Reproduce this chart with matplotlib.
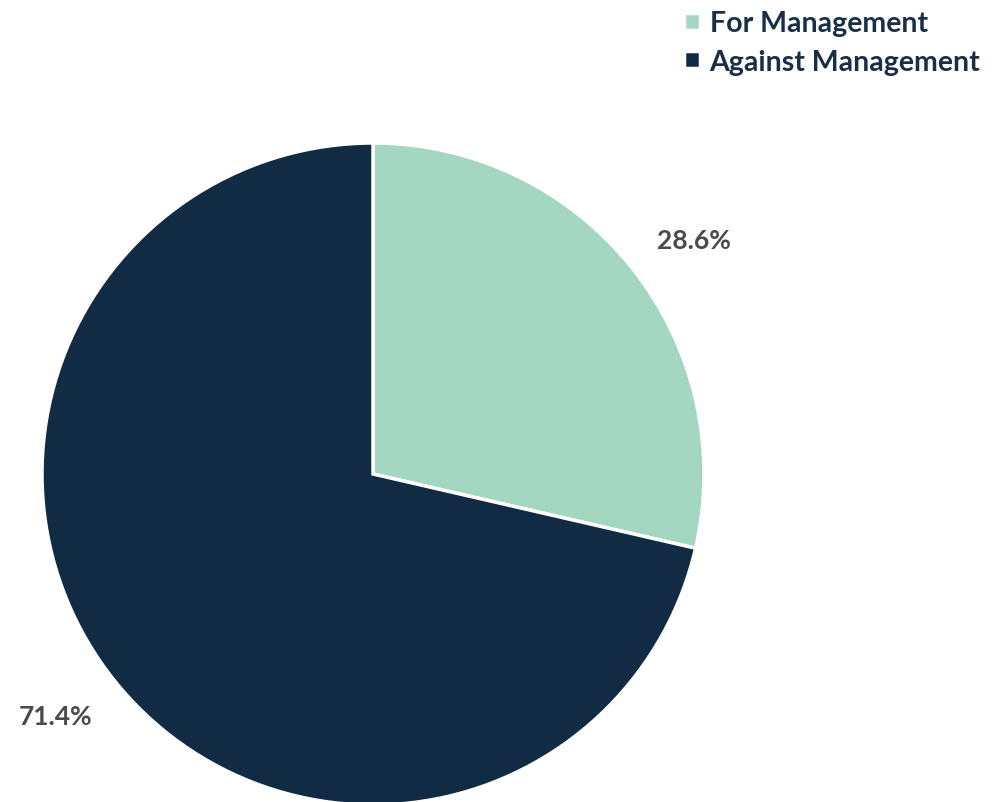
import matplotlib.pyplot as plt

labels = ["For Management", "Against Management"]
shares = [28.6, 71.4]
colors = ["#A3D7C1", "#122B45"]

fig = plt.figure(figsize=(10.06, 8.03), dpi=100)
# pie centre ~ (373, 475) px, radius ~ 331 px
ax = fig.add_axes([42 / 1006, -3 / 803, 662 / 1006, 662 / 803])
wedges, texts, autotexts = ax.pie(
    shares,
    colors=colors,
    startangle=90,
    counterclock=False,
    autopct="%.1f%%",
    pctdistance=1.2,
    wedgeprops=dict(edgecolor="white", linewidth=2.5),
    textprops=dict(fontsize=19, color="#4a4a4a", fontweight="bold", family="Lato"),
)
# nudge labels slightly, as in the source
x0, y0 = autotexts[0].get_position()
autotexts[0].set_position((x0 + 0.03, y0 - 0.04))
x1, y1 = autotexts[1].get_position()
autotexts[1].set_position((x1 - 0.02, y1 + 0.015))
ax.set_aspect("equal")
ax.set_xlim(-1, 1)
ax.set_ylim(-1, 1)

fig.legend(
    wedges,
    labels,
    loc="upper right",
    bbox_to_anchor=(1.0, 1.018),
    frameon=False,
    handlelength=0.55,
    handleheight=0.55,
    handletextpad=0.35,
    labelspacing=0.45,
    prop=dict(family="Lato", weight="bold", size=20.5),
    labelcolor="#1A2E48",
)

fig.savefig("out.png", dpi=100)
